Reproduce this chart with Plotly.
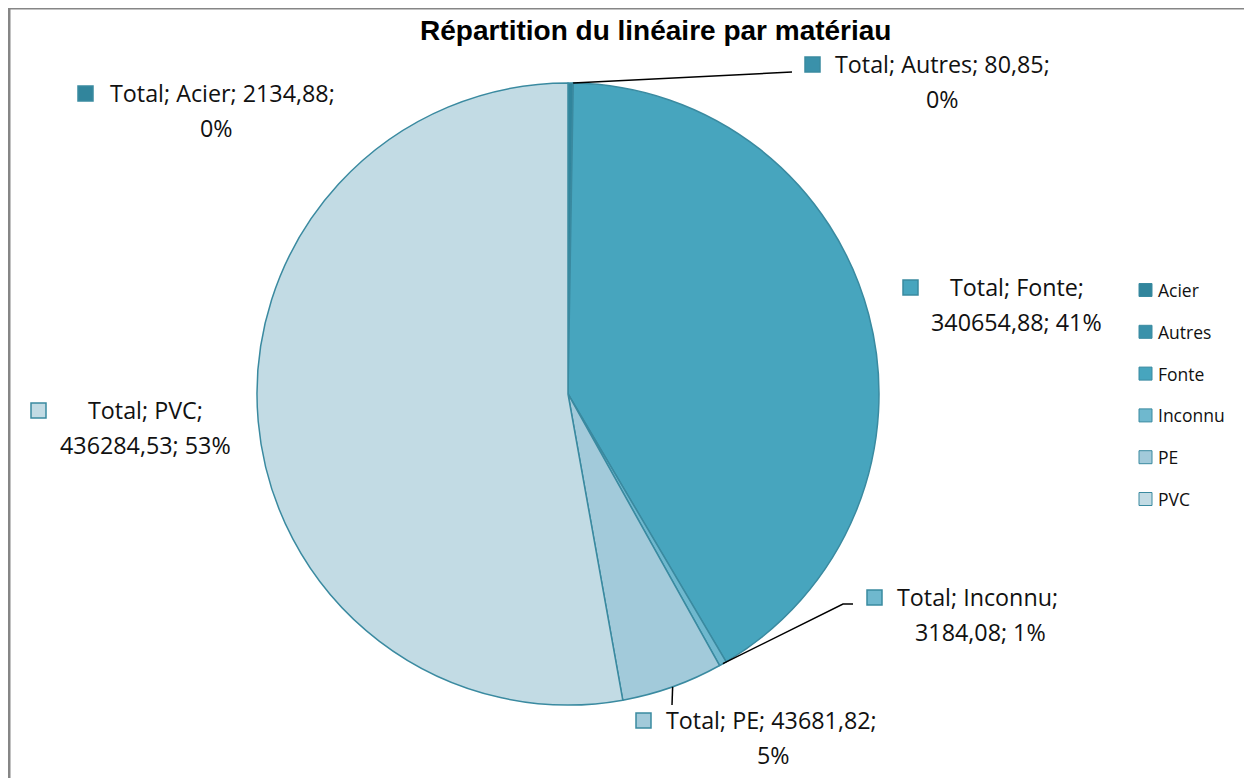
import math
import plotly.graph_objects as go

# ---- data ----
categories = ["Acier", "Autres", "Fonte", "Inconnu", "PE", "PVC"]
values = [2134.88, 80.85, 340654.88, 3184.08, 43681.82, 436284.53]
value_labels = ["2134,88", "80,85", "340654,88", "3184,08", "43681,82", "436284,53"]
pct_labels = ["0%", "0%", "41%", "1%", "5%", "53%"]
title_text = "Répartition du linéaire par matériau"

# ---- style ----
OFF = 8  # page body margin
W, H = 1244, 770
fills = ["#31859C", "#3A91AA", "#47A5BE", "#6FB8CE", "#A2CADA", "#C2DBE4"]
edge = "#3A8AA0"
CX, CY, R = 568, 394, 311
label_font = dict(family="Open Sans, sans-serif", size=23.3, color="#111111")
legend_font = dict(family="Open Sans, sans-serif", size=17.5, color="#111111")


def px(x):
    return (x - OFF) / W


def py(y):
    return 1 - (y - OFF) / H


fig = go.Figure()
fig.add_trace(go.Pie(
    labels=categories,
    values=values,
    sort=False,
    direction="clockwise",
    rotation=0,
    textinfo="none",
    hoverinfo="label+value+percent",
    marker=dict(colors=fills, line=dict(color=edge, width=1.5)),
    domain=dict(x=[px(CX - R), px(CX + R)], y=[py(CY + R), py(CY - R)]),
    showlegend=False,
))

shapes = []
annotations = []

# chart frame
shapes.append(dict(type="rect", xref="paper", yref="paper",
                   x0=px(9), x1=px(1280), y0=py(820), y1=1.0,
                   line=dict(color="#868686", width=3), fillcolor="rgba(0,0,0,0)"))

# title
annotations.append(dict(text="<b>" + title_text + "</b>", xref="paper", yref="paper",
                        x=px(655), y=py(30), xanchor="center", yanchor="middle",
                        showarrow=False,
                        font=dict(family="Liberation Sans, Arial, sans-serif", size=28, color="#000000")))

# data label placement: (key square x, line1 text x, line1 y, line2 center x, line2 y)
label_pos = {
    "Acier":   (78, 108, 93, 216, 128),
    "Autres":  (805, 833, 64, 942, 99),
    "Fonte":   (903, 948, 287, 1016, 322),
    "Inconnu": (867, 895, 597, 980, 632),
    "PE":      (636, 664, 720, 773, 755),
    "PVC":     (31, 86, 410, 145, 445),
}
# leader line end points (label side)
leader_end = {
    "Autres": [(792, 72)],
    "Inconnu": [(843, 604), (853, 604)],
    "PE": [(672, 705)],
}
two_part = ("Fonte", "Inconnu", "PVC")

total = sum(values)
cum = 0.0
for i, cat in enumerate(categories):
    frac = values[i] / total
    mid = (cum + frac / 2) * 2 * math.pi
    cum += frac
    sx, l1x, l1y, l2x, l2y = label_pos[cat]
    shapes.append(dict(type="rect", xref="paper", yref="paper",
                       x0=px(sx), x1=px(sx + 15), y0=py(l1y + 8), y1=py(l1y - 7),
                       fillcolor=fills[i], line=dict(color=edge, width=1.5)))
    if cat in two_part:
        line1 = "Total; %s;" % cat
        line2 = "%s; %s" % (value_labels[i], pct_labels[i])
    else:
        line1 = "Total; %s; %s;" % (cat, value_labels[i])
        line2 = pct_labels[i]
    annotations.append(dict(text=line1, xref="paper", yref="paper", x=px(l1x), y=py(l1y),
                            xanchor="left", yanchor="middle", showarrow=False, font=label_font))
    annotations.append(dict(text=line2, xref="paper", yref="paper", x=px(l2x), y=py(l2y),
                            xanchor="center", yanchor="middle", showarrow=False, font=label_font))
    if cat in leader_end:
        x0 = CX + R * math.sin(mid)
        y0 = CY - R * math.cos(mid)
        pts = [(x0, y0)] + leader_end[cat]
        path = "M " + " L ".join("%f,%f" % (px(a), py(b)) for a, b in pts)
        shapes.append(dict(type="path", xref="paper", yref="paper", path=path,
                           line=dict(color="#000000", width=1.5)))

# manual legend
leg_y0, leg_dy = 290, 41.8
for i, cat in enumerate(categories):
    yy = leg_y0 + i * leg_dy
    shapes.append(dict(type="rect", xref="paper", yref="paper",
                       x0=px(1139), x1=px(1152), y0=py(yy + 6.5), y1=py(yy - 6.5),
                       fillcolor=fills[i], line=dict(color=edge, width=1)))
    annotations.append(dict(text=cat, xref="paper", yref="paper", x=px(1156), y=py(yy),
                            xanchor="left", yanchor="middle", showarrow=False, font=legend_font))

fig.update_layout(
    width=W, height=H,
    margin=dict(l=0, r=0, t=0, b=0),
    paper_bgcolor="white", plot_bgcolor="white",
    shapes=shapes, annotations=annotations,
    showlegend=False,
)

fig.write_html("out.html")
